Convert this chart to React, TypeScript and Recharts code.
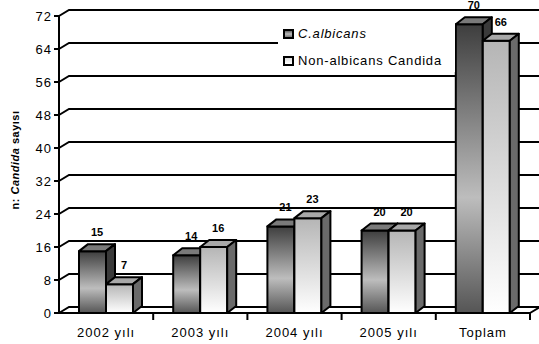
import { BarChart, Bar, XAxis, YAxis, CartesianGrid, Legend, LabelList, Label } from 'recharts';

const categories = ['2002 yılı', '2003 yılı', '2004 yılı', '2005 yılı', 'Toplam'];
const albicans = [15, 14, 21, 20, 70];
const nonAlbicans = [7, 16, 23, 20, 66];
const yTicks = [0, 8, 16, 24, 32, 40, 48, 56, 64, 72];

const data = categories.map((name, i) => ({
  name,
  albicans: albicans[i],
  nonAlbicans: nonAlbicans[i],
}));

const FONT = '"Liberation Sans", Arial, Helvetica, sans-serif';
const W = 539;
const H = 344;
const MARGIN = { top: 16, right: 9, bottom: 1, left: 0 };
const X_HEIGHT = 30;
const Y_WIDTH = 59;
const AXIS_Y = H - MARGIN.bottom - X_HEIGHT;
const BAND = (W - Y_WIDTH - MARGIN.left - MARGIN.right) / categories.length;
// 3d depth of bars and of the back wall
const DX = 9;
const DY = 7;
const GDX = 10;
const GDY = 6;

function make3DBar(front: string, top: string, side: string) {
  return (props: any) => {
    const { x, y, width, height } = props;
    if (!width || height == null) return <g />;
    const x2 = x + width;
    const y2 = y + height;
    return (
      <g stroke="#000" strokeWidth={2} strokeLinejoin="round">
        <rect x={x} y={y} width={width} height={height} fill={`url(#${front})`} />
        <polygon
          points={`${x},${y} ${x + DX},${y - DY} ${x2 + DX},${y - DY} ${x2},${y}`}
          fill={top}
        />
        <polygon
          points={`${x2},${y} ${x2 + DX},${y - DY} ${x2 + DX},${y2 - DY} ${x2},${y2}`}
          fill={side}
        />
      </g>
    );
  };
}

const AlbicansBar = make3DBar('albFront', '#7a7a7a', '#3a3a3a');
const NonAlbicansBar = make3DBar('nonFront', '#a8a8a8', '#6a6a6a');

function renderValue(p: any) {
  return (
    <text
      x={p.x + p.width / 2 + DX / 2}
      y={p.y - 15}
      textAnchor="middle"
      fontSize={11}
      fontWeight="bold"
      fontFamily={FONT}
      fill="#000"
    >
      {p.value}
    </text>
  );
}

function gridLine(props: any) {
  const { x1, y1, x2 } = props;
  const isFloor = y1 >= AXIS_Y - 0.5;
  let d = `M${x1},${y1} L${x1 + GDX},${y1 - GDY} L${x2 + GDX},${y1 - GDY}`;
  if (isFloor) d += ` L${x2},${y1}`;
  return <path key={props.key} d={d} stroke="#000" strokeWidth={2} fill="none" />;
}

function XTick(props: any) {
  const { x, payload } = props;
  return (
    <g>
      <text
        x={x}
        y={AXIS_Y + 24}
        textAnchor="middle"
        fontSize={13}
        letterSpacing={1}
        fontFamily={FONT}
        fill="#000"
      >
        {payload.value}
      </text>
      <line x1={x + BAND / 2} x2={x + BAND / 2} y1={AXIS_Y} y2={AXIS_Y + 7} stroke="#000" strokeWidth={2} />
    </g>
  );
}

function LegendBox() {
  const marker = (bg: string) => (
    <span
      style={{
        display: 'inline-block',
        width: 7,
        height: 6,
        border: '2px solid #000',
        background: bg,
        marginRight: 4,
      }}
    />
  );
  const row = { display: 'flex', alignItems: 'center', height: 27 } as const;
  return (
    <div
      style={{
        fontFamily: FONT,
        fontSize: 13,
        letterSpacing: 0.8,
        color: '#000',
        paddingTop: 2,
        paddingLeft: 5,
        whiteSpace: 'nowrap',
      }}
    >
      <div style={row}>
        {marker('linear-gradient(#666, #bbb, #777)')}
        <span style={{ fontStyle: 'italic' }}>C.albicans</span>
      </div>
      <div style={row}>
        {marker('linear-gradient(#ddd, #fff)')}
        <span>Non-albicans Candida</span>
      </div>
    </div>
  );
}

export default function App() {
  return (
    <div style={{ position: 'absolute', left: 0, top: 0, width: W, height: H, background: '#fff' }}>
      <BarChart width={W} height={H} data={data} margin={MARGIN} barGap={0} barSize={27}>
        <defs>
          <linearGradient id="albFront" x1="0" y1="0" x2="0" y2="1">
            <stop offset="0%" stopColor="#3e3e3e" />
            <stop offset="60%" stopColor="#bdbdbd" />
            <stop offset="100%" stopColor="#555555" />
          </linearGradient>
          <linearGradient id="nonFront" x1="0" y1="0" x2="0" y2="1">
            <stop offset="0%" stopColor="#b5b5b5" />
            <stop offset="100%" stopColor="#ffffff" />
          </linearGradient>
        </defs>
        <CartesianGrid horizontal={gridLine} vertical={false} />
        <XAxis
          dataKey="name"
          height={X_HEIGHT}
          tick={<XTick />}
          tickLine={false}
          axisLine={{ stroke: '#000', strokeWidth: 2 }}
          interval={0}
        />
        <YAxis
          width={Y_WIDTH}
          domain={[0, 72]}
          ticks={yTicks}
          interval={0}
          tickSize={5}
          tick={{ fill: '#000', fontSize: 13, fontFamily: FONT, letterSpacing: 1 }}
          tickLine={{ stroke: '#000', strokeWidth: 2 }}
          axisLine={{ stroke: '#000', strokeWidth: 2 }}
        >
          <Label
            content={() => (
              <text
                transform="rotate(-90, 15, 160)"
                x={15}
                y={160}
                textAnchor="middle"
                dominantBaseline="central"
                fontSize={11}
                letterSpacing={0.5}
                fontWeight="bold"
                fontFamily={FONT}
                fill="#000"
              >
                n: <tspan fontStyle="italic">Candida</tspan> sayısı
              </text>
            )}
          />
        </YAxis>
        <Legend
          layout="vertical"
          verticalAlign="middle"
          align="center"
          wrapperStyle={{ left: 278, top: 18, width: 177, height: 54, background: '#fff' }}
          content={() => <LegendBox />}
        />
        <Bar dataKey="albicans" name="C.albicans" shape={AlbicansBar} isAnimationActive={false}>
          <LabelList dataKey="albicans" content={renderValue} />
        </Bar>
        <Bar dataKey="nonAlbicans" name="Non-albicans Candida" shape={NonAlbicansBar} isAnimationActive={false}>
          <LabelList dataKey="nonAlbicans" content={renderValue} />
        </Bar>
      </BarChart>
    </div>
  );
}
